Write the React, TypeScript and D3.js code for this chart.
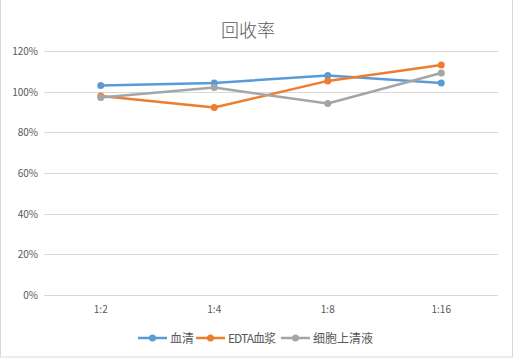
import React from "react";
import * as d3 from "d3";

const categories = ["1:2", "1:4", "1:8", "1:16"];
const seriesNames = ["血清", "EDTA血浆", "细胞上清液"];
const serum = [1.03, 1.043, 1.08, 1.043];
const edta = [0.979, 0.922, 1.053, 1.131];
const supernatant = [0.971, 1.02, 0.942, 1.092];
const yTicks = [0, 0.2, 0.4, 0.6, 0.8, 1.0, 1.2];
const colors = ["#5b9bd5", "#ed7d31", "#a5a5a5"];

const W = 513, H = 358;
const left = 44, right = 498, top = 51, bottom = 295;

export default function App() {
  const x = d3.scaleBand().domain(categories).range([left, right]);
  const y = d3.scaleLinear().domain([0, 1.2]).range([bottom, top]);
  const data = [serum, edta, supernatant];
  const line = d3
    .line<number>()
    .x((_, i) => x(categories[i])! + x.bandwidth() / 2)
    .y((d) => y(d));
  const font = "'Noto Sans CJK SC', 'Noto Sans', sans-serif";
  const legendItems = [
    { lx: 138, tx: 170 },
    { lx: 196, tx: 228 },
    { lx: 281, tx: 313 },
  ];
  return (
    <svg
      width={W}
      height={H}
      style={{ position: "absolute", left: 0, top: 0, background: "#fff" }}
      fontFamily={font}
    >
      <rect x={0.5} y={-1} width={512} height={358} fill="#fff" stroke="#d9d9d9" />
      <text x={248} y={37} textAnchor="middle" fontSize={18} fill="#595959" fontWeight={300}>
        回收率
      </text>
      {yTicks.map((t) => (
        <g key={t}>
          <line x1={left} x2={right} y1={Math.round(y(t)) + 0.5} y2={Math.round(y(t)) + 0.5} stroke="#d9d9d9" />
          <text x={38} y={y(t) + 4} textAnchor="end" fontSize={10} fill="#595959">
            {d3.format(".0%")(t)}
          </text>
        </g>
      ))}
      {categories.map((c) => (
        <text key={c} x={x(c)! + x.bandwidth() / 2} y={313} textAnchor="middle" fontSize={10} fill="#595959">
          {c}
        </text>
      ))}
      {data.map((s, k) => (
        <g key={k}>
          <path d={line(s)!} fill="none" stroke={colors[k]} strokeWidth={2.5} strokeLinejoin="round" />
          {s.map((v, i) => (
            <circle key={i} cx={x(categories[i])! + x.bandwidth() / 2} cy={y(v)} r={3.5} fill={colors[k]} />
          ))}
        </g>
      ))}
      {legendItems.map((it, k) => (
        <g key={k}>
          <line x1={it.lx} x2={it.lx + 29} y1={338} y2={338} stroke={colors[k]} strokeWidth={2.5} />
          <circle cx={it.lx + 14.5} cy={338} r={3.5} fill={colors[k]} />
          <text x={it.tx} y={342.5} fontSize={12} fill="#595959" textLength={k === 1 ? 48 : undefined}>
            {seriesNames[k]}
          </text>
        </g>
      ))}
    </svg>
  );
}
